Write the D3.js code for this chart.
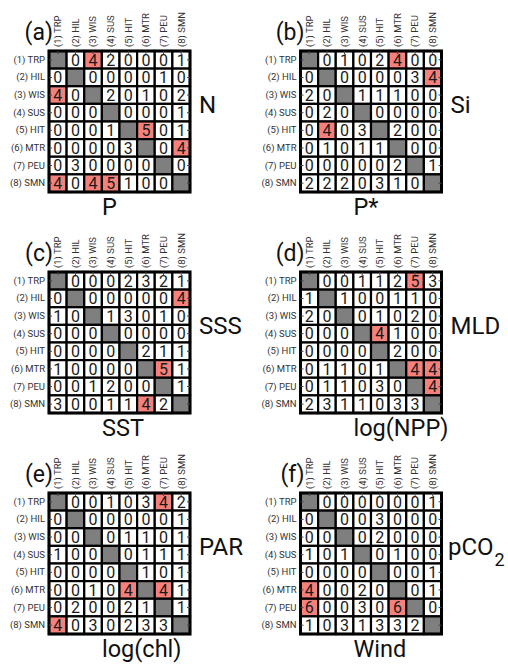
<!DOCTYPE html>
<html>
<head>
<meta charset="utf-8">
<script src="https://cdn.jsdelivr.net/npm/d3@7"></script>
<style>
  html, body { margin: 0; padding: 0; background: #fff; }
  svg { display: block; font-family: Roboto, "Noto Sans", sans-serif; }
</style>
</head>
<body>
<svg id="chart" width="508" height="665"></svg>
<script>
// Regions (rows = source, columns = target)
const regions = ["(1) TRP", "(2) HIL", "(3) WIS", "(4) SUS", "(5) HIT", "(6) MTR", "(7) PEU", "(8) SMN"];

// Panel letters and axis titles
const panelLetters = ["(a)", "(b)", "(c)", "(d)", "(e)", "(f)"];
const rightTitles = ["N", "Si", "SSS", "MLD", "PAR", "pCO2"];
const bottomTitles = ["P", "P*", "SST", "log(NPP)", "log(chl)", "Wind"];

// Counts per region pair; null on the diagonal
const countsNP = [
  [null, 0, 4, 2, 0, 0, 0, 1],
  [0, null, 0, 0, 0, 0, 1, 0],
  [4, 0, null, 2, 0, 1, 0, 2],
  [0, 0, 0, null, 0, 0, 0, 1],
  [0, 0, 0, 1, null, 5, 0, 1],
  [0, 0, 0, 0, 3, null, 0, 4],
  [0, 3, 0, 0, 0, 0, null, 0],
  [4, 0, 4, 5, 1, 0, 0, null]
];
const countsSiPstar = [
  [null, 0, 1, 0, 2, 4, 0, 0],
  [0, null, 0, 0, 0, 0, 3, 4],
  [2, 0, null, 1, 1, 1, 0, 0],
  [0, 2, 0, null, 0, 0, 0, 0],
  [0, 4, 0, 3, null, 2, 0, 0],
  [0, 1, 0, 1, 1, null, 0, 0],
  [0, 0, 0, 0, 0, 2, null, 1],
  [2, 2, 2, 0, 3, 1, 0, null]
];
const countsSSS_SST = [
  [null, 0, 0, 0, 2, 3, 2, 1],
  [0, null, 0, 0, 0, 0, 0, 4],
  [1, 0, null, 1, 3, 0, 1, 0],
  [0, 0, 0, null, 0, 0, 0, 0],
  [0, 0, 0, 0, null, 2, 1, 1],
  [1, 0, 0, 0, 0, null, 5, 1],
  [0, 0, 1, 2, 0, 0, null, 1],
  [3, 0, 0, 1, 1, 4, 2, null]
];
const countsMLD_NPP = [
  [null, 0, 0, 1, 1, 2, 5, 3],
  [1, null, 1, 0, 0, 1, 1, 0],
  [2, 0, null, 0, 1, 0, 2, 0],
  [0, 0, 0, null, 4, 1, 0, 0],
  [0, 0, 0, 0, null, 2, 0, 0],
  [0, 1, 1, 0, 1, null, 4, 4],
  [0, 1, 1, 0, 3, 0, null, 4],
  [2, 3, 1, 1, 0, 3, 3, null]
];
const countsPAR_chl = [
  [null, 0, 0, 1, 0, 3, 4, 2],
  [0, null, 0, 0, 0, 0, 0, 1],
  [0, 0, null, 0, 1, 1, 0, 1],
  [1, 0, 0, null, 0, 1, 1, 1],
  [0, 0, 0, 0, null, 1, 0, 1],
  [0, 0, 1, 0, 4, null, 4, 1],
  [0, 2, 0, 0, 2, 1, null, 1],
  [4, 0, 3, 0, 2, 3, 3, null]
];
const countsCO2_Wind = [
  [null, 0, 0, 0, 0, 0, 0, 1],
  [0, null, 0, 0, 3, 0, 0, 0],
  [0, 0, null, 0, 2, 0, 0, 0],
  [1, 0, 1, null, 0, 1, 0, 0],
  [0, 0, 0, 0, null, 0, 0, 1],
  [4, 0, 0, 2, 0, null, 0, 1],
  [6, 0, 0, 3, 0, 6, null, 0],
  [1, 0, 3, 1, 3, 3, 2, null]
];

const matrices = [countsNP, countsSiPstar, countsSSS_SST, countsMLD_NPP, countsPAR_chl, countsCO2_Wind];

// Layout
const gridSize = 141;
const gridLefts = [49, 300.5];
const gridTops = [51, 272, 493];

const fillFor = v => v === null ? "#7f7f7f" : (v >= 4 ? "#f4817b" : "#ffffff");

const svg = d3.select("#chart");

matrices.forEach((m, k) => {
  const gx = gridLefts[k % 2];
  const gy = gridTops[Math.floor(k / 2)];

  const x = d3.scaleBand().domain(regions).range([0, gridSize]).padding(0);
  const y = d3.scaleBand().domain(regions).range([0, gridSize]).padding(0);

  const g = svg.append("g").attr("transform", `translate(${gx},${gy})`);

  const cells = [];
  m.forEach((row, i) => row.forEach((v, j) => cells.push({ r: regions[i], c: regions[j], v })));

  g.selectAll("rect.cell")
    .data(cells)
    .join("rect")
    .attr("class", "cell")
    .attr("x", d => x(d.c))
    .attr("y", d => y(d.r))
    .attr("width", x.bandwidth())
    .attr("height", y.bandwidth())
    .attr("fill", d => fillFor(d.v))
    .attr("stroke", "#000")
    .attr("stroke-width", 2.2);

  g.selectAll("text.val")
    .data(cells.filter(d => d.v !== null))
    .join("text")
    .attr("class", "val")
    .attr("x", d => x(d.c) + x.bandwidth() / 2)
    .attr("y", d => y(d.r) + y.bandwidth() / 2)
    .attr("dy", "0.36em")
    .attr("text-anchor", "middle")
    .attr("font-size", 16)
    .attr("fill", "#1a1a1a")
    .text(d => d.v);

  // outer frame
  g.append("rect")
    .attr("width", gridSize).attr("height", gridSize)
    .attr("fill", "none").attr("stroke", "#000").attr("stroke-width", 3);

  // left axis: row labels with inward ticks
  const left = g.append("g")
    .call(d3.axisLeft(y).tickSizeInner(-3).tickSizeOuter(0).tickPadding(4));
  left.select(".domain").remove();
  left.selectAll("line").attr("stroke", "#444");
  left.selectAll("text").attr("font-size", 9.5).attr("fill", "#333")
    .attr("font-family", "Roboto, sans-serif");

  // right axis: inward ticks only
  const right = g.append("g").attr("transform", `translate(${gridSize},0)`)
    .call(d3.axisRight(y).tickSizeInner(-3).tickSizeOuter(0).tickFormat(""));
  right.select(".domain").remove();
  right.selectAll("line").attr("stroke", "#444");

  // top axis: rotated column labels
  const top = g.append("g")
    .call(d3.axisTop(x).tickSizeInner(-3).tickSizeOuter(0));
  top.select(".domain").remove();
  top.selectAll("line").attr("stroke", "#444");
  top.selectAll("text")
    .attr("transform", "rotate(-90)")
    .attr("x", 4).attr("y", 0).attr("dy", "0.35em")
    .attr("text-anchor", "start")
    .attr("font-size", 9.5).attr("fill", "#333")
    .attr("font-family", "Roboto, sans-serif");

  // panel letter
  g.append("text")
    .attr("x", 4).attr("y", -11)
    .attr("text-anchor", "end")
    .attr("font-size", 23).attr("fill", "#111")
    .text(panelLetters[k]);

  // right title (with subscript for pCO2)
  const label = rightTitles[k];
  const rt = g.append("text")
    .attr("x", gridSize + (label === "pCO2" ? 6.5 : 9)).attr("y", 62)
    .attr("font-size", 24).attr("fill", "#111");
  if (label === "pCO2") {
    rt.append("tspan").text("pCO");
    rt.append("tspan").attr("dx", 1).attr("dy", 11).attr("font-size", 18).text("2");
  } else {
    rt.text(label);
  }

  // bottom title
  g.append("text")
    .attr("x", 53).attr("y", gridSize + 22.5)
    .attr("font-size", 23.5).attr("fill", "#111")
    .text(bottomTitles[k]);
});
</script>
</body>
</html>
